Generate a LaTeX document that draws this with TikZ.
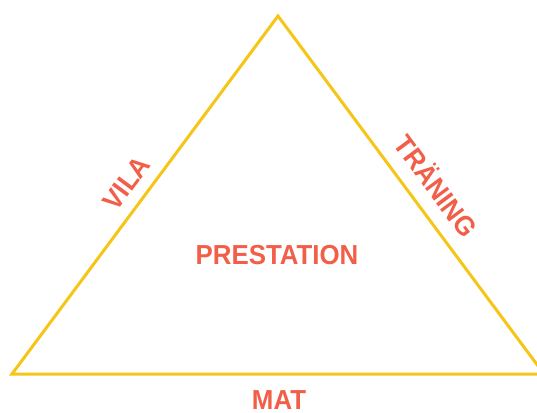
\documentclass[tikz,border=0pt]{standalone}
\usepackage{fontspec}
\setmainfont{Liberation Sans}[BoldFont={Liberation Sans Bold}, BoldFeatures={FakeStretch=0.94}]
\definecolor{gul}{HTML}{F5C518}
\definecolor{rod}{HTML}{F25E48}
\tikzset{
  etikett/.style={text=rod, inner sep=0pt, text height=20pt, text depth=0pt, font=\bfseries\fontsize{27.5}{27.5}\selectfont},
  kant/.style={draw=gul, line width=3pt, line join=miter}
}
\begin{document}
\begin{tikzpicture}[x=1pt, y=-1pt]
		\useasboundingbox (0,0) rectangle (537,412);
		\path
		(278,16) coordinate (T)
		(12,374) coordinate (V)
		(544,374) coordinate (H)
		;
		\draw[kant] (V)--(T)--(H)--cycle;
		\node[etikett, rotate=53.4] (vila) at (126,183) {VILA};
		\node[etikett, rotate=-53.4] (traning) at (436,186) {TRÄNING};
		\node[etikett] (prestation) at (277,254) {PRESTATION};
		\node[etikett] (mat) at (279,399) {MAT};
\end{tikzpicture}
\end{document}
